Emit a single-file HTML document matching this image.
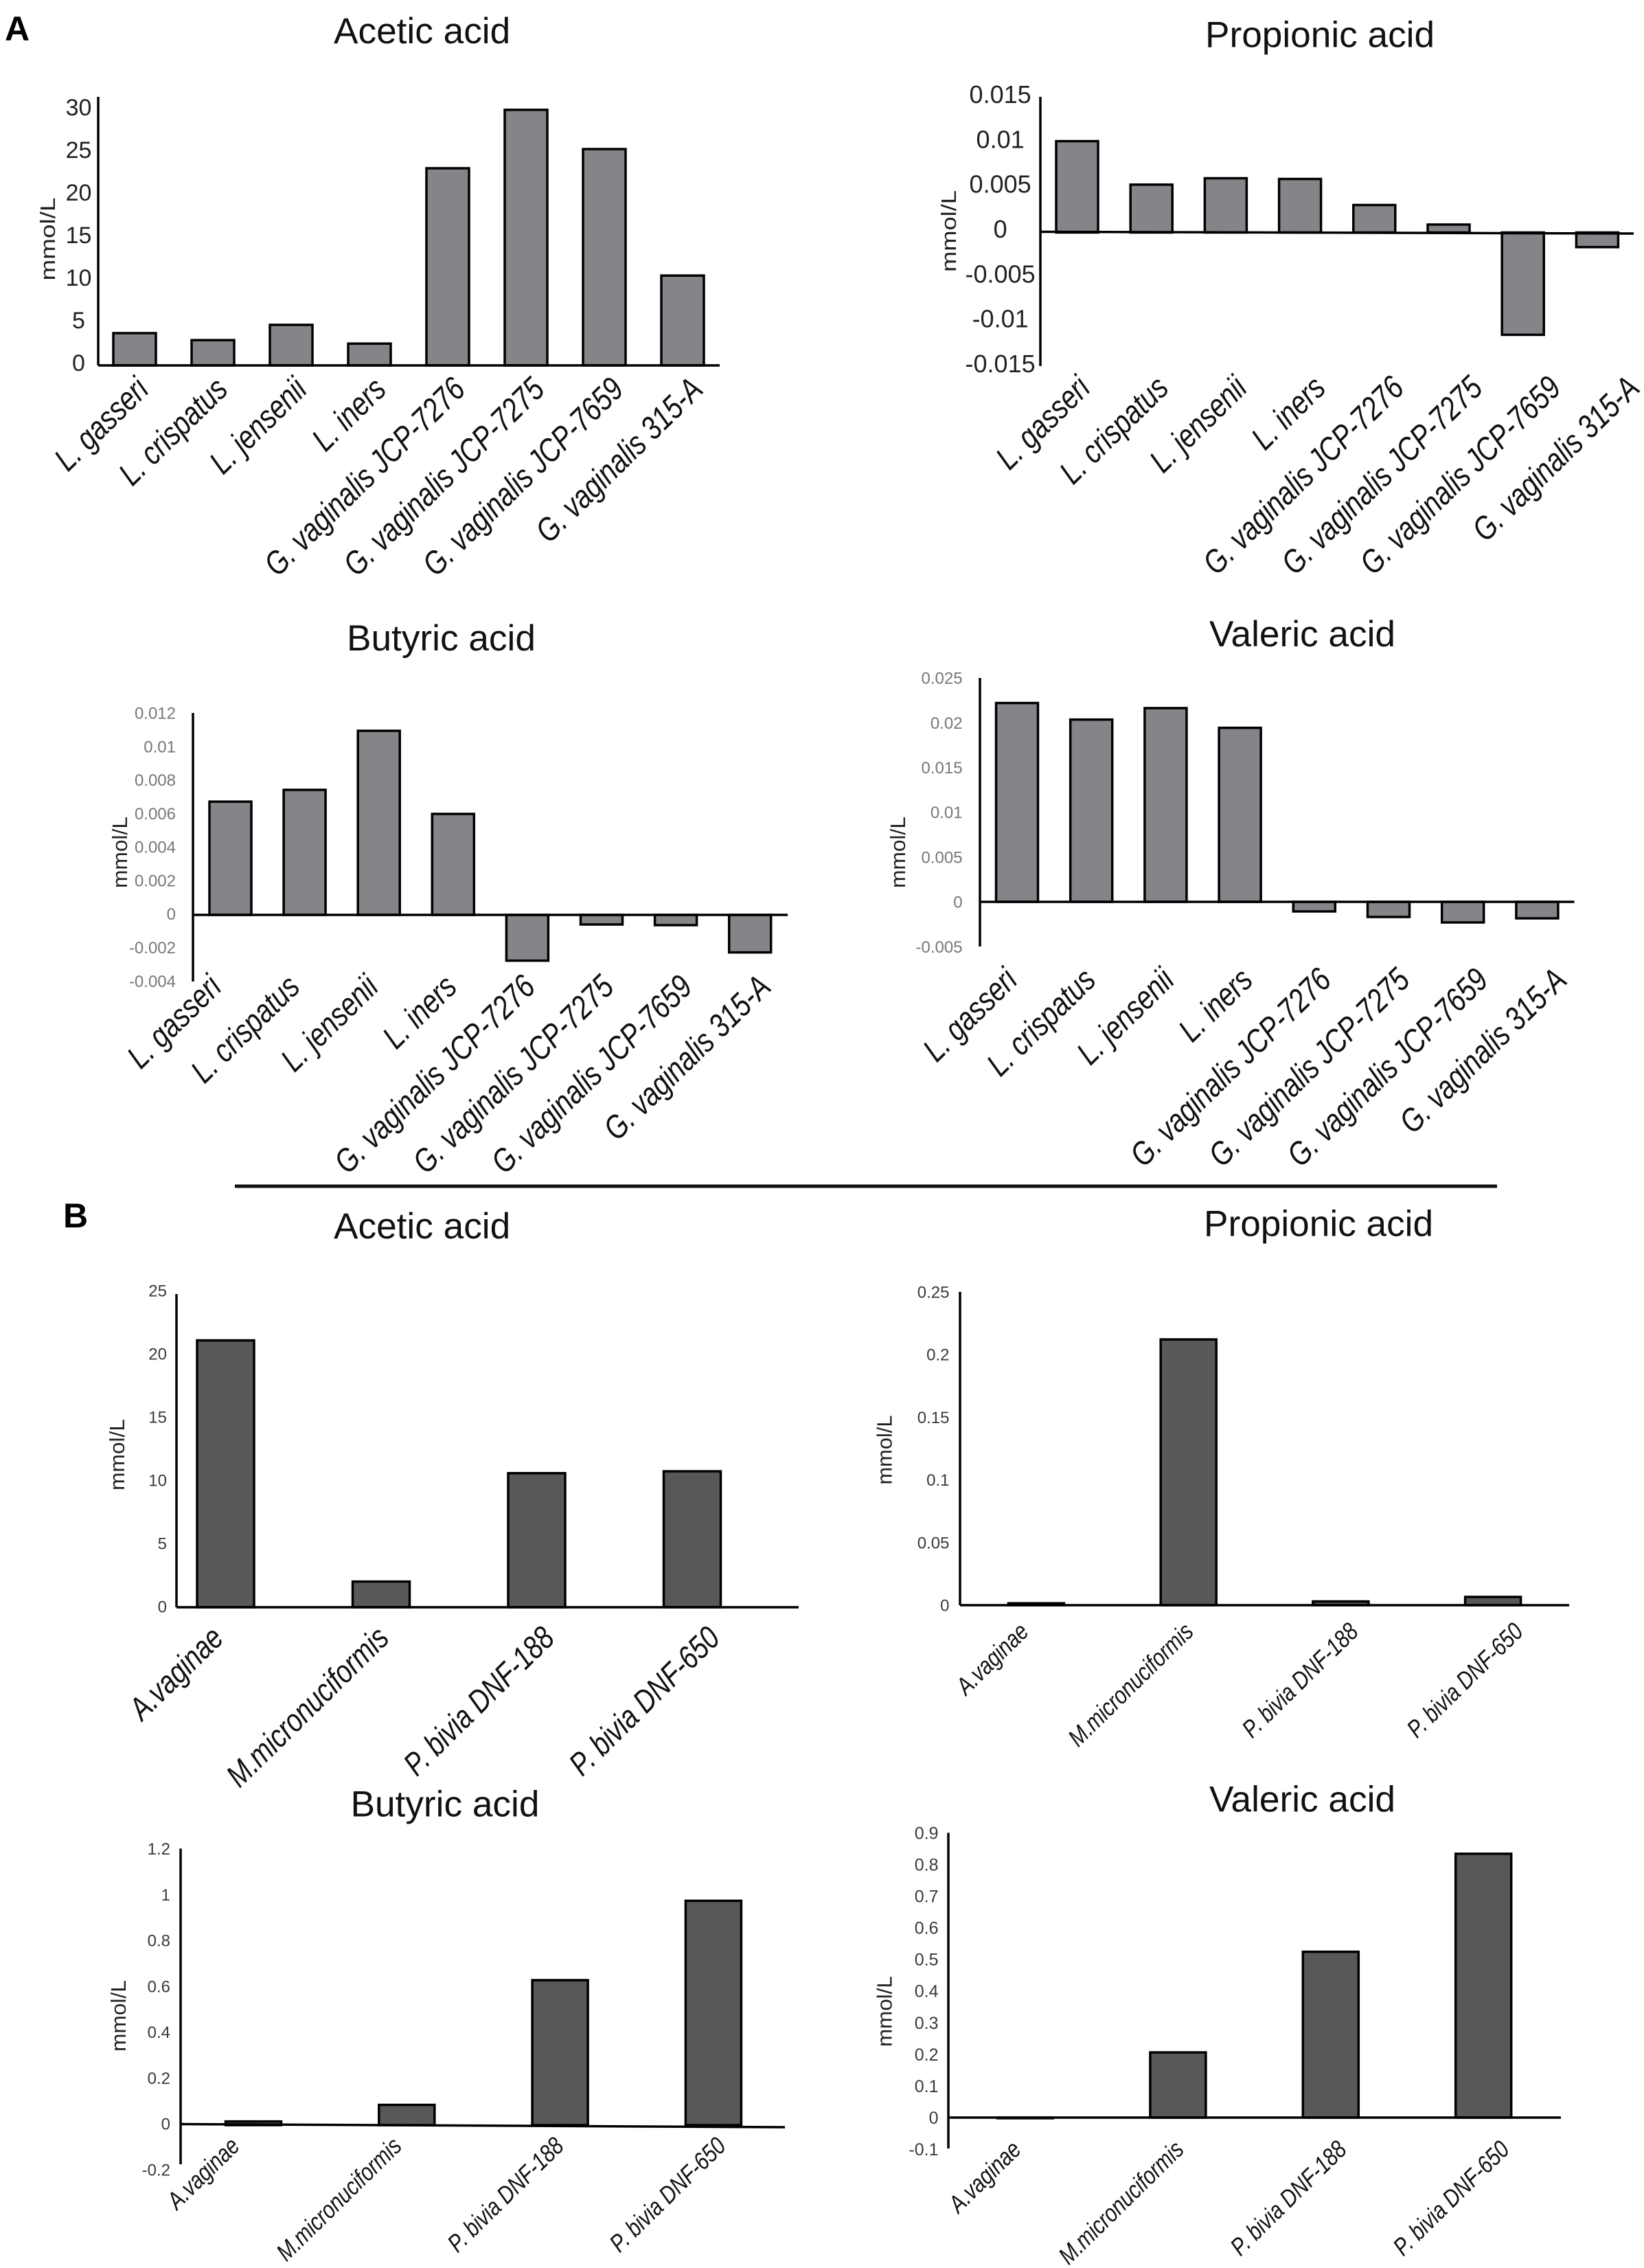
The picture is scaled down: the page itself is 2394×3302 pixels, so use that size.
<!DOCTYPE html>
<html lang="en">
<head>
<meta charset="utf-8">
<title>Short-chain fatty acid production by vaginal bacteria</title>
<style>
html,body{margin:0;padding:0;background:#fff;}
svg{display:block;font-family:"Liberation Sans",sans-serif;}
</style>
</head>
<body>
<svg id="figure" xmlns="http://www.w3.org/2000/svg" width="2394" height="3302" viewBox="0 0 2394 3302">
  <rect x="0" y="0" width="2394" height="3302" fill="#fff"/>
  <text x="7" y="59" font-size="50" font-weight="bold" fill="#000">A</text>
  <text x="92" y="1787" font-size="50" font-weight="bold" fill="#000">B</text>
  <line x1="342" y1="1727" x2="2180" y2="1727" stroke="#111" stroke-width="5"/>
</svg>
<script>
const categoriesA = ['L. gasseri','L. crispatus','L. jensenii','L. iners','G. vaginalis JCP-7276','G. vaginalis JCP-7275','G. vaginalis JCP-7659','G. vaginalis 315-A'];
const categoriesB = ['A.vaginae','M.micronuciformis','P. bivia DNF-188','P. bivia DNF-650'];

const valuesAAcetic = [3.7, 2.9, 4.65, 2.5, 22.6, 29.3, 24.8, 10.3];
const valuesAPropionic = [0.0100, 0.00524, 0.00594, 0.00586, 0.00301, 0.00087, -0.0112, -0.0016];
const valuesAButyric = [0.00673, 0.00743, 0.01094, 0.0060, -0.00272, -0.00057, -0.00061, -0.00223];
const valuesAValeric = [0.0222, 0.02035, 0.02163, 0.01943, -0.00107, -0.00169, -0.0023, -0.00184];
const valuesBAcetic = [21.3, 2.05, 10.7, 10.85];
const valuesBPropionic = [0.0015, 0.212, 0.003, 0.0066];
const valuesBButyric = [0.016, 0.088, 0.63, 0.975];
const valuesBValeric = [-0.002, 0.206, 0.524, 0.8337];

const ticksAAcetic = ['30','25','20','15','10','5','0'];
const ticksAPropionic = ['0.015','0.01','0.005','0','-0.005','-0.01','-0.015'];
const ticksAButyric = ['0.012','0.01','0.008','0.006','0.004','0.002','0','-0.002','-0.004'];
const ticksAValeric = ['0.025','0.02','0.015','0.01','0.005','0','-0.005'];
const ticksBAcetic = ['25','20','15','10','5','0'];
const ticksBPropionic = ['0.25','0.2','0.15','0.1','0.05','0'];
const ticksBButyric = ['1.2','1','0.8','0.6','0.4','0.2','0','-0.2'];
const ticksBValeric = ['0.9','0.8','0.7','0.6','0.5','0.4','0.3','0.2','0.1','0','-0.1'];

const panels = [
  {id:'a-acetic', title:'Acetic acid', tx:486, ty:63, cats:categoriesA, vals:valuesAAcetic, ticks:ticksAAcetic,
   ax:143, top:141, bot:532, zero:532, unit:12.7, xEnd:1048, zl:532, zr:532,
   tz:528, tu:12.4, tickX:114.5, tickAnchor:'middle', tickSize:34, tickFill:'#222',
   c0:196, step:114, w:62, fill:'#848588',
   lx:219, ls:115.3, ly:570, lsize:48, lscale:0.81, yx:80, yc:348, yl:121},
  {id:'a-propionic', title:'Propionic acid', tx:1755, ty:68.6, cats:categoriesA, vals:valuesAPropionic, ticks:ticksAPropionic,
   ax:1515, top:141, bot:533, zero:338.5, unit:13300, xEnd:2379, zl:337.5, zr:340,
   tz:333, tu:13067, tickX:1456.6, tickAnchor:'middle', tickSize:36, tickFill:'#222',
   c0:1568.5, step:108.2, w:61, fill:'#848588',
   lx:1590, ls:114.3, ly:568, lsize:48, lscale:0.81, yx:1392, yc:336.5, yl:119},
  {id:'a-butyric', title:'Butyric acid', tx:505, ty:947, cats:categoriesA, vals:valuesAButyric, ticks:ticksAButyric,
   ax:281, top:1038, bot:1429, zero:1332, unit:24500, xEnd:1147, zl:1332, zr:1332,
   tz:1330.6, tu:24383, tickX:256, tickAnchor:'end', tickSize:24, tickFill:'#777',
   c0:335.5, step:108.1, w:61, fill:'#848588',
   lx:325, ls:114.3, ly:1440, lsize:48, lscale:0.81, yx:185, yc:1241, yl:104},
  {id:'a-valeric', title:'Valeric acid', tx:1761, ty:941, cats:categoriesA, vals:valuesAValeric, ticks:ticksAValeric,
   ax:1427, top:987, bot:1378, zero:1313, unit:13040, xEnd:2292.5, zl:1313, zr:1313,
   tz:1313, tu:13040, tickX:1401.6, tickAnchor:'end', tickSize:24, tickFill:'#777',
   c0:1481, step:108.2, w:61, fill:'#848588',
   lx:1484, ls:114.3, ly:1430, lsize:48, lscale:0.81, yx:1318, yc:1241, yl:104},
  {id:'b-acetic', title:'Acetic acid', tx:486, ty:1803, cats:categoriesB, vals:valuesBAcetic, ticks:ticksBAcetic,
   ax:257, top:1884, bot:2340, zero:2340, unit:18.24, xEnd:1163, zl:2340, zr:2340,
   tz:2338.7, tu:18.39, tickX:243, tickAnchor:'end', tickSize:24, tickFill:'#3a3a3a',
   c0:328.5, step:226.5, w:83, fill:'#58585a',
   lx:328, ls:241, ly:2388, lsize:47, lscale:0.81, yx:181, yc:2118, yl:104},
  {id:'b-propionic', title:'Propionic acid', tx:1753, ty:1799.5, cats:categoriesB, vals:valuesBPropionic, ticks:ticksBPropionic,
   ax:1398, top:1880.7, bot:2337, zero:2337, unit:1825, xEnd:2285, zl:2337, zr:2337,
   tz:2337, tu:1825, tickX:1382.5, tickAnchor:'end', tickSize:24, tickFill:'#3a3a3a',
   c0:1509, step:221.7, w:81, fill:'#58585a',
   lx:1500, ls:240, ly:2378, lsize:36, lscale:0.815, yx:1298.5, yc:2111, yl:101},
  {id:'b-butyric', title:'Butyric acid', tx:510.5, ty:2644.5, cats:categoriesB, vals:valuesBButyric, ticks:ticksBButyric,
   ax:263, top:2691.4, bot:3151, zero:3094, unit:335, xEnd:1143, zl:3092.5, zr:3097,
   tz:3092, tu:333.8, tickX:248, tickAnchor:'end', tickSize:24, tickFill:'#3a3a3a',
   c0:369, step:223.3, w:81, fill:'#58585a',
   lx:351, ls:236, ly:3127, lsize:36, lscale:0.815, yx:183, yc:2935, yl:104},
  {id:'b-valeric', title:'Valeric acid', tx:1761, ty:2637.6, cats:categoriesB, vals:valuesBValeric, ticks:ticksBValeric,
   ax:1381, top:2668.4, bot:3128, zero:3083, unit:460.7, xEnd:2273, zl:3083, zr:3083,
   tz:3083, tu:460.7, tickX:1366.5, tickAnchor:'end', tickSize:25, tickFill:'#3a3a3a',
   c0:1493, step:222.4, w:81, fill:'#58585a',
   lx:1489, ls:237, ly:3132, lsize:36, lscale:0.815, yx:1298.5, yc:2928.5, yl:103}
];

const NS = 'http://www.w3.org/2000/svg';
const figure = document.getElementById('figure');

function make(tag, parent, attrs, text) {
  const node = document.createElementNS(NS, tag);
  for (const k in attrs) node.setAttribute(k, attrs[k]);
  if (text !== undefined) node.textContent = text;
  parent.appendChild(node);
  return node;
}

function drawPanel(p) {
  const yOf = v => p.zero - v * p.unit;
  const tickY = v => p.tz - v * p.tu;
  const barX = i => p.c0 + p.step * i;
  const labelX = i => p.lx + p.ls * i;

  const g = make('g', figure, {});
  
  

  let el = make('text', g, {x:p.tx, y:p.ty, 'font-size':53.2, fill:'#111'}, p.title);
  
  

  p.ticks.forEach(t => {
    el = make('text', g, {x:p.tickX, y:tickY(parseFloat(t)), dy:'.36em', 'font-size':p.tickSize, fill:p.tickFill, 'text-anchor':p.tickAnchor}, t);
    
    
  });

  p.vals.forEach((v, i) => {
    el = make('rect', g, {x:barX(i) - p.w / 2, y:Math.min(yOf(v), yOf(0)), width:p.w, height:Math.abs(yOf(v) - yOf(0)), fill:p.fill, stroke:'#000', 'stroke-width':3.5});
    
    
  });

  el = make('line', g, {x1:p.ax, y1:p.top, x2:p.ax, y2:p.bot, stroke:'#000', 'stroke-width':3.5});
  
  

  el = make('line', g, {x1:p.ax, y1:p.zl, x2:p.xEnd, y2:p.zr, stroke:'#000', 'stroke-width':3.5});
  
  

  p.cats.forEach((c, i) => {
    el = make('text', g, {x:0, y:0, 'font-size':p.lsize, 'font-style':'italic', fill:'#111', 'text-anchor':'end', transform:'translate(' + labelX(i) + ' ' + p.ly + ') rotate(-44.5) scale(' + p.lscale + ' 1)'}, c);
    
    
  });

  el = make('text', g, {x:p.yx, y:p.yc, 'font-size':31, fill:'#222', 'text-anchor':'middle', textLength:p.yl, lengthAdjust:'spacingAndGlyphs', transform:'rotate(-90 ' + p.yx + ' ' + p.yc + ')'}, 'mmol/L');
  
  
}

panels.forEach(drawPanel);
</script>
</body>
</html>
